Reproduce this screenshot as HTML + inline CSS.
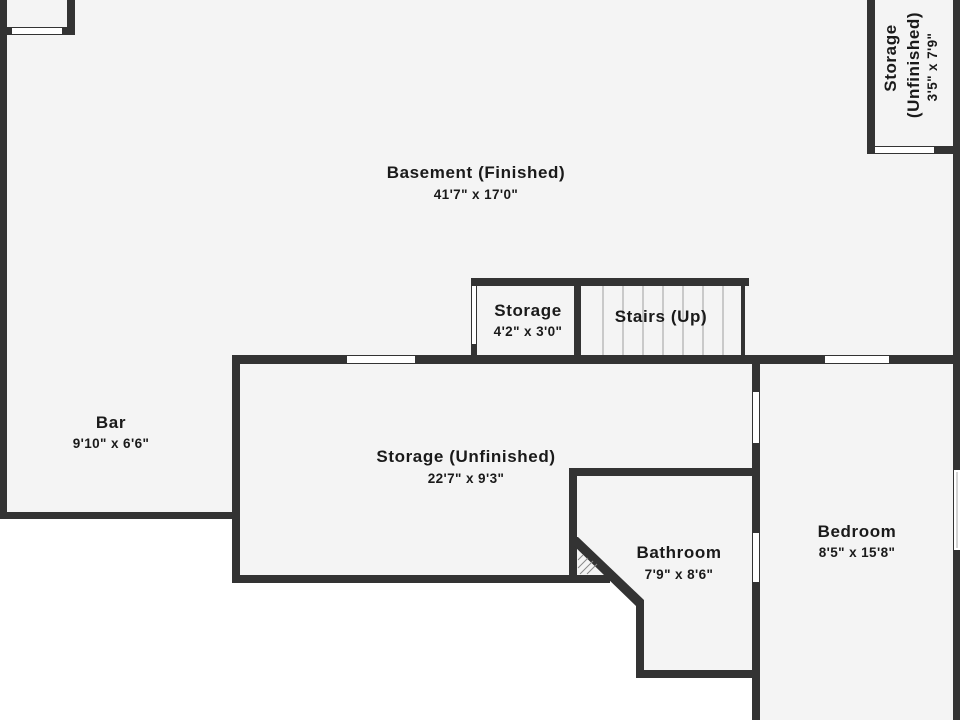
<!DOCTYPE html>
<html><head><meta charset="utf-8"><style>
html,body{margin:0;padding:0;background:#fff;}
svg{display:block}
text{font-family:"Liberation Sans",sans-serif;font-weight:bold;fill:#1a1a1a;text-anchor:middle}
.t{font-size:17px;letter-spacing:0.6px}.d{font-size:13.5px;letter-spacing:0.4px}
</style></head><body>
<svg width="960" height="720" viewBox="0 0 960 720">
<rect width="960" height="720" fill="#fff"/>
<polygon fill="#f4f4f4" points="0,0 960,0 960,720 756,720 756,674 640,674 640,604 573,540 573,579 236,579 236,516 0,516"/>
<polygon fill="#f4f4f4" points="577,545 606,575 577,575"/>
<g fill="#333">
<rect x="0" y="0" width="7" height="519"/>
<rect x="0" y="512" width="240" height="7"/>
<rect x="67" y="0" width="8" height="35"/>
<rect x="0" y="27" width="75" height="8"/>
<rect x="867" y="0" width="8" height="154"/>
<rect x="867" y="146" width="93" height="8"/>
<rect x="953" y="0" width="7" height="720"/>
<rect x="471" y="278" width="278" height="8"/>
<rect x="471" y="278" width="6" height="85"/>
<rect x="574" y="278" width="7" height="85"/>
<rect x="741" y="278" width="4" height="80"/>
<rect x="232" y="355" width="728" height="9"/>
<rect x="232" y="355" width="8" height="228"/>
<rect x="232" y="575" width="378" height="8"/>
<rect x="752" y="355" width="8" height="365"/>
<rect x="569" y="468" width="191" height="8"/>
<rect x="569" y="468" width="8" height="115"/>
<rect x="636" y="600" width="8" height="78"/>
<rect x="636" y="670" width="124" height="8"/>
</g>
<polygon fill="#333" points="573,537 578,537 644,600 644,606 636,606 573,545"/>
<g stroke="#888" stroke-width="1">
<line x1="578" y1="560" x2="583" y2="555"/>
<line x1="578" y1="568" x2="588" y2="558"/>
<line x1="580" y1="574" x2="593" y2="561"/>
<line x1="587" y1="574" x2="597" y2="564"/>
</g>
<g fill="#fff">
<rect x="12" y="28" width="50" height="6"/>
<rect x="875" y="147" width="59" height="6"/>
<rect x="472" y="286" width="4" height="58"/>
<rect x="347" y="356" width="68" height="7"/>
<rect x="825" y="356" width="64" height="7"/>
<rect x="753" y="392" width="6" height="51"/>
<rect x="753" y="533" width="6" height="49"/>
<rect x="954" y="470" width="6" height="80"/>
</g>
<line x1="957" y1="472" x2="957" y2="548" stroke="#aaa" stroke-width="1"/>
<g stroke="#bbb" stroke-width="1.5">
<line x1="603" y1="286" x2="603" y2="355"/><line x1="623" y1="286" x2="623" y2="355"/>
<line x1="643" y1="286" x2="643" y2="355"/><line x1="663" y1="286" x2="663" y2="355"/>
<line x1="683" y1="286" x2="683" y2="355"/><line x1="703" y1="286" x2="703" y2="355"/>
<line x1="723" y1="286" x2="723" y2="355"/>
</g>
<text class="t" x="476" y="178">Basement (Finished)</text>
<text class="d" x="476" y="199">41'7" x 17'0"</text>
<text class="t" x="528" y="316">Storage</text>
<text class="d" x="528" y="336">4'2" x 3'0"</text>
<text class="t" x="661" y="322">Stairs (Up)</text>
<text class="t" x="111" y="428">Bar</text>
<text class="d" x="111" y="448">9'10" x 6'6"</text>
<text class="t" x="466" y="462">Storage (Unfinished)</text>
<text class="d" x="466" y="483">22'7" x 9'3"</text>
<text class="t" x="679" y="558">Bathroom</text>
<text class="d" x="679" y="579">7'9" x 8'6"</text>
<text class="t" x="857" y="537">Bedroom</text>
<text class="d" x="857" y="557">8'5" x 15'8"</text>
<g transform="translate(896,58) rotate(-90)"><text class="t" x="0" y="0">Storage</text></g>
<g transform="translate(919,65) rotate(-90)"><text class="t" x="0" y="0">(Unfinished)</text></g>
<g transform="translate(937,67) rotate(-90)"><text class="d" x="0" y="0">3'5" x 7'9"</text></g>
</svg>
</body></html>
